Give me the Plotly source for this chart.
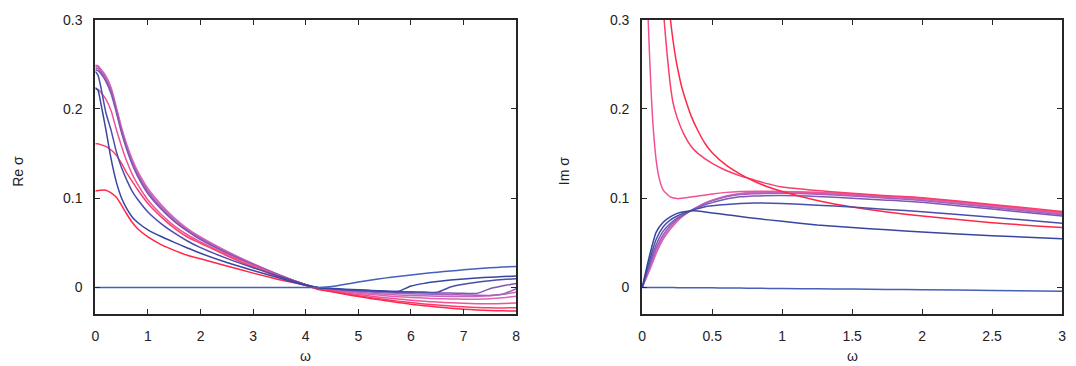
import plotly.graph_objects as go

# ---------------- data ----------------
W_RE = [0, 0.05, 0.1, 0.2, 0.3, 0.4, 0.5, 0.6, 0.7, 0.8, 1.0, 1.25, 1.5, 1.75, 2.0, 2.5, 3.0, 3.5, 4.0,
        4.25, 4.5, 4.75, 5.0, 5.25, 5.5, 5.75, 6.0, 6.25, 6.5, 6.75, 7.0, 7.25, 7.5, 7.75, 8.0]

RE_C0 = [0, 0, 0, 0, 0, 0, 0, 0, 0, 0, 0, 0, 0, 0, 0, 0, 0, 0, 0,
         0, 0.001, 0.0035, 0.006, 0.0083, 0.0104, 0.0123, 0.014, 0.0156, 0.017, 0.0184, 0.0197, 0.0209, 0.0219, 0.0228, 0.0235]
RE_C1 = [0.224, 0.221, 0.208, 0.177, 0.144, 0.118, 0.100, 0.088, 0.079, 0.073, 0.0645, 0.057, 0.0505, 0.0442, 0.0382, 0.0279, 0.019, 0.0105, 0.0023,
         -0.0003, -0.0012, -0.002, -0.0027, -0.0034, -0.004, -0.0046, 0.0015, 0.0045, 0.0065, 0.0082, 0.0095, 0.0105, 0.0114, 0.0121, 0.0127]
RE_C2 = [0.242, 0.238, 0.226, 0.196, 0.176, 0.152, 0.134, 0.120, 0.108, 0.099, 0.0845, 0.0715, 0.061, 0.052, 0.0445, 0.0325, 0.022, 0.0125, 0.003,
         -0.0003, -0.0015, -0.0025, -0.0032, -0.0038, -0.0043, -0.0047, -0.005, -0.0053, -0.0055, 0.0005, 0.0035, 0.0058, 0.0075, 0.0088, 0.0098]
RE_C3 = [0.244, 0.243, 0.240, 0.231, 0.217, 0.196, 0.173, 0.154, 0.138, 0.125, 0.105, 0.088, 0.074, 0.063, 0.0535, 0.0385, 0.0255, 0.0135, 0.003,
         -0.0005, -0.0018, -0.003, -0.0038, -0.0045, -0.005, -0.0054, -0.0057, -0.006, -0.0062, -0.0064, -0.0066, -0.0068, -0.0015, 0.0018, 0.0043]
RE_C4 = [0.246, 0.2455, 0.242, 0.233, 0.220, 0.198, 0.175, 0.156, 0.140, 0.127, 0.107, 0.089, 0.075, 0.064, 0.0545, 0.039, 0.0258, 0.0137, 0.003,
         -0.0008, -0.0022, -0.0035, -0.0045, -0.0053, -0.006, -0.0066, -0.0071, -0.0075, -0.0079, -0.0082, -0.0085, -0.0088, -0.009, -0.0075, -0.0015]
RE_C5 = [0.248, 0.2475, 0.244, 0.235, 0.222, 0.200, 0.177, 0.158, 0.142, 0.129, 0.109, 0.091, 0.077, 0.065, 0.0555, 0.040, 0.0262, 0.0139, 0.003,
         -0.001, -0.0027, -0.0042, -0.0055, -0.0066, -0.0076, -0.0084, -0.009, -0.0095, -0.0099, -0.0102, -0.0103, -0.0102, -0.0095, -0.0078, -0.0055]
RE_C6 = [0.249, 0.2485, 0.245, 0.237, 0.224, 0.202, 0.179, 0.160, 0.144, 0.131, 0.111, 0.093, 0.078, 0.066, 0.0565, 0.0405, 0.0265, 0.014, 0.003,
         -0.0012, -0.0032, -0.005, -0.0066, -0.008, -0.0093, -0.0104, -0.0113, -0.012, -0.0126, -0.013, -0.0132, -0.0132, -0.0128, -0.0117, -0.010]
RE_C7 = [0.222, 0.222, 0.219, 0.211, 0.198, 0.177, 0.158, 0.141, 0.127, 0.116, 0.098, 0.082, 0.069, 0.059, 0.051, 0.037, 0.0245, 0.013, 0.003,
         -0.0015, -0.0038, -0.006, -0.008, -0.0098, -0.0115, -0.013, -0.0143, -0.0155, -0.0165, -0.0173, -0.0179, -0.0183, -0.0184, -0.0181, -0.0175]
RE_C8 = [0.161, 0.161, 0.160, 0.158, 0.154, 0.148, 0.139, 0.128, 0.119, 0.110, 0.094, 0.079, 0.0665, 0.0565, 0.0495, 0.0355, 0.0228, 0.0115, 0.002,
         -0.002, -0.0045, -0.007, -0.0093, -0.0115, -0.0135, -0.0154, -0.017, -0.0185, -0.0198, -0.0209, -0.0218, -0.0225, -0.0229, -0.023, -0.0228]
RE_C9 = [0.108, 0.1085, 0.109, 0.109, 0.106, 0.101, 0.092, 0.082, 0.073, 0.066, 0.0565, 0.048, 0.0415, 0.036, 0.032, 0.024, 0.016, 0.0085, 0.0023,
         -0.0025, -0.005, -0.0077, -0.0102, -0.0126, -0.0148, -0.0169, -0.0188, -0.0205, -0.022, -0.0233, -0.0244, -0.0253, -0.0259, -0.0263, -0.0264]

W_IM = [0, 0.05, 0.1, 0.15, 0.2, 0.25, 0.3, 0.37, 0.45, 0.5, 0.6, 0.7, 0.8, 1.0, 1.25, 1.5, 1.75, 2.0, 2.5, 3.0]
IM_C0 = [0, -0.0001, -0.0001, -0.0002, -0.0002, -0.0003, -0.0003, -0.0004, -0.0005, -0.0005, -0.0007, -0.0008, -0.001, -0.0012, -0.0016, -0.0019, -0.0023, -0.0026, -0.0034, -0.0042]
IM_C1 = [0, 0.034, 0.062, 0.073, 0.079, 0.083, 0.0848, 0.0858, 0.0845, 0.0835, 0.0815, 0.0795, 0.0775, 0.074, 0.070, 0.0672, 0.0645, 0.062, 0.058, 0.0544]
IM_C2 = [0, 0.029, 0.054, 0.068, 0.0755, 0.080, 0.0835, 0.0872, 0.0905, 0.0915, 0.093, 0.094, 0.0945, 0.094, 0.0922, 0.090, 0.0874, 0.0848, 0.0785, 0.0719]
IM_C3 = [0, 0.025, 0.048, 0.063, 0.0715, 0.0775, 0.082, 0.0875, 0.0925, 0.095, 0.099, 0.1015, 0.1025, 0.103, 0.102, 0.100, 0.0978, 0.0953, 0.0878, 0.080]
IM_C4 = [0, 0.022, 0.044, 0.059, 0.069, 0.0765, 0.082, 0.088, 0.094, 0.097, 0.1015, 0.104, 0.105, 0.1055, 0.1045, 0.1025, 0.100, 0.0975, 0.0895, 0.0815]
IM_C5 = [0, 0.020, 0.041, 0.056, 0.067, 0.0755, 0.0815, 0.088, 0.0945, 0.0975, 0.102, 0.1047, 0.106, 0.1065, 0.1055, 0.1035, 0.101, 0.0985, 0.0905, 0.0825]
IM_C6 = [0, 0.018, 0.038, 0.054, 0.065, 0.074, 0.081, 0.088, 0.0948, 0.0978, 0.1025, 0.1053, 0.1066, 0.1072, 0.1063, 0.1044, 0.102, 0.0995, 0.0915, 0.0835]

W_IM_C7 = [0.038, 0.045, 0.055, 0.065, 0.075, 0.085, 0.1, 0.12, 0.15, 0.2, 0.25, 0.3, 0.4, 0.5, 0.6, 0.7, 0.8, 1.0, 1.25, 1.5, 1.75, 2.0, 2.5, 3.0]
IM_C7 = [0.32, 0.29, 0.25, 0.215, 0.187, 0.166, 0.142, 0.123, 0.109, 0.1015, 0.0995, 0.1002, 0.1025, 0.1048, 0.1065, 0.1075, 0.1078, 0.1075, 0.1065, 0.1045, 0.1022, 0.0998, 0.0922, 0.084]
W_IM_C8 = [0.15, 0.16, 0.18, 0.2, 0.22, 0.25, 0.3, 0.35, 0.4, 0.5, 0.6, 0.7, 0.8, 0.9, 1.0, 1.25, 1.5, 1.75, 2.0, 2.5, 3.0]
IM_C8 = [0.315, 0.293, 0.258, 0.228, 0.207, 0.19, 0.171, 0.158, 0.150, 0.139, 0.131, 0.125, 0.1205, 0.116, 0.1125, 0.1085, 0.1055, 0.1028, 0.1005, 0.093, 0.085]
W_IM_C9 = [0.195, 0.2, 0.22, 0.24, 0.26, 0.28, 0.3, 0.35, 0.4, 0.45, 0.5, 0.6, 0.7, 0.8, 0.9, 1.0, 1.25, 1.5, 1.75, 2.0, 2.5, 3.0]
IM_C9 = [0.315, 0.303, 0.277, 0.256, 0.240, 0.226, 0.215, 0.192, 0.175, 0.161, 0.151, 0.137, 0.127, 0.119, 0.1125, 0.1075, 0.0975, 0.090, 0.0845, 0.080, 0.0725, 0.067]

RE_TICKS_X = [0, 1, 2, 3, 4, 5, 6, 7, 8]
IM_TICKS_X = [0, 0.5, 1, 1.5, 2, 2.5, 3]
TICKS_Y = [0, 0.1, 0.2, 0.3]

# ---------------- style ----------------
COLORS = ["rgb(70,95,185)", "rgb(55,70,160)", "rgb(75,78,168)", "rgb(125,88,178)", "rgb(165,98,188)",
          "rgb(198,104,190)", "rgb(222,100,178)", "rgb(240,82,150)", "rgb(250,60,110)", "rgb(255,40,72)"]

re_series = [RE_C0, RE_C1, RE_C2, RE_C3, RE_C4, RE_C5, RE_C6, RE_C7, RE_C8, RE_C9]
im_series = [(W_IM, IM_C0), (W_IM, IM_C1), (W_IM, IM_C2), (W_IM, IM_C3), (W_IM, IM_C4),
             (W_IM, IM_C5), (W_IM, IM_C6), (W_IM_C7, IM_C7), (W_IM_C8, IM_C8), (W_IM_C9, IM_C9)]

fig = go.Figure()
order = [6, 5, 4, 3, 7, 8, 9, 2, 1, 0]
for i in order:
    fig.add_trace(go.Scatter(x=W_RE, y=re_series[i], mode="lines", xaxis="x", yaxis="y",
                             line=dict(color=COLORS[i], width=1.5, shape="spline", smoothing=0.6),
                             showlegend=False, hoverinfo="skip"))
for i in order:
    wx, wy = im_series[i]
    fig.add_trace(go.Scatter(x=wx, y=wy, mode="lines", xaxis="x2", yaxis="y2",
                             line=dict(color=COLORS[i], width=1.5, shape="spline", smoothing=0.6),
                             showlegend=False, hoverinfo="skip"))

W, H = 1076, 366
FONT = "Liberation Sans, Arial, sans-serif"
axis_common = dict(showline=True, linecolor="#262626", linewidth=2, mirror="ticks",
                   ticks="inside", ticklen=5, tickwidth=1.3, tickcolor="#262626",
                   showgrid=False, zeroline=False,
                   tickfont=dict(family=FONT, size=14, color="#222"))

ydom = [1 - 313 / H, 1 - 12 / H]
fig.update_layout(
    width=W, height=H, margin=dict(l=0, r=0, t=0, b=0),
    paper_bgcolor="white", plot_bgcolor="white",
    xaxis=dict(domain=[92 / W, 516 / W], range=[0, 8], tickvals=RE_TICKS_X,
               ticktext=[str(v) for v in RE_TICKS_X], anchor="y", ticklabelstandoff=8, **axis_common),
    yaxis=dict(domain=ydom, range=[-0.03, 0.3], tickvals=TICKS_Y,
               ticktext=["0", "0.1", "0.2", "0.3"], anchor="x", ticklabelstandoff=8, **axis_common),
    xaxis2=dict(domain=[643 / W, 1066 / W], range=[0, 3], tickvals=IM_TICKS_X,
                ticktext=[str(v) for v in IM_TICKS_X], anchor="y2", ticklabelstandoff=8, **axis_common),
    yaxis2=dict(domain=ydom, range=[-0.03, 0.3], tickvals=TICKS_Y,
                ticktext=["0", "0.1", "0.2", "0.3"], anchor="x2", ticklabelstandoff=8, **axis_common),
)

def ann(text, xpx, ypx, angle=0):
    fig.add_annotation(text=text, xref="paper", yref="paper", x=xpx / W, y=1 - ypx / H,
                       xanchor="center", yanchor="middle", showarrow=False, textangle=angle,
                       font=dict(family=FONT, size=14, color="#222"))

ann("Re σ", 14.5, 167, -90)
ann("Im σ", 565, 167, -90)
ann("ω", 304, 356)
ann("ω", 855, 356)

fig.write_html("out.html")
